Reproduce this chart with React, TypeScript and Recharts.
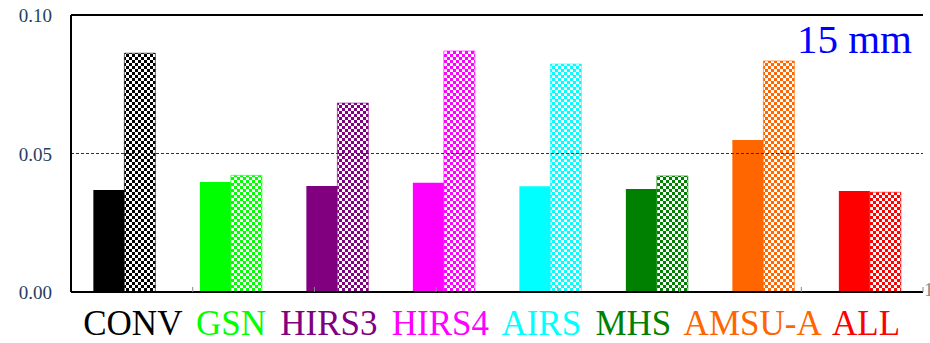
import { BarChart, Bar, Cell, XAxis, YAxis, ReferenceLine } from "recharts";

const categories = ["CONV", "GSN", "HIRS3", "HIRS4", "AIRS", "MHS", "AMSU-A", "ALL"];
const colors = ["#000000", "#00ff00", "#800080", "#ff00ff", "#00ffff", "#008000", "#ff6600", "#ff0000"];
const solidValues = [0.0368, 0.0397, 0.0383, 0.0394, 0.0382, 0.0372, 0.0549, 0.0365];
const checkedValues = [0.0862, 0.0421, 0.0682, 0.087, 0.0823, 0.0419, 0.0834, 0.036];
const yTicks = [0, 0.05, 0.1];
const edgeTicks = [1, 2, 3, 4, 5, 6, 7];

const data = categories.map((name, i) => ({
  name,
  solid: solidValues[i],
  checked: checkedValues[i],
}));

const SERIF = "'Liberation Serif', serif";

// the category names are set as one coloured line under the axis,
// drawn once from the first tick
function CategoryLine({ x, y, payload }: any) {
  if (categories.indexOf(payload.value) !== 0) return <g />;
  return (
    <text
      x={x - 41}
      y={y}
      dy={41}
      style={{ fontFamily: SERIF, fontSize: 35, wordSpacing: 5.5 }}
    >
      {categories.map((c, i) => (
        <tspan key={c} fill={colors[i]}>
          {i > 0 ? " " : ""}
          {c}
        </tspan>
      ))}
    </text>
  );
}

function ValueTick({ x, y, payload }: any) {
  return (
    <text
      x={x}
      y={y}
      dy={7}
      textAnchor="end"
      fill="#243f60"
      style={{ fontFamily: SERIF, fontSize: 19 }}
    >
      {payload.value.toFixed(2)}
    </text>
  );
}

export default function App() {
  return (
    <div style={{ position: "absolute", left: 0, top: 0, width: 930, height: 343, background: "#fff" }}>
      <BarChart
        width={930}
        height={343}
        data={data}
        margin={{ top: 15, right: 7, bottom: 0, left: 0 }}
        barCategoryGap="21%"
        barGap={0}
      >
        <defs>
          {colors.map((c, i) => (
            <pattern key={i} id={`chk${i}`} width={6} height={6} patternUnits="userSpaceOnUse">
              <rect width={6} height={6} fill="#ffffff" />
              <rect width={3} height={3} fill={c} />
              <rect x={3} y={3} width={3} height={3} fill={c} />
            </pattern>
          ))}
        </defs>
        <XAxis
          dataKey="name"
          height={51}
          tickLine={false}
          tickSize={0}
          tick={<CategoryLine />}
          interval={0}
          axisLine={{ stroke: "#000", strokeWidth: 2 }}
        />
        {/* small ticks between the groups */}
        <XAxis
          xAxisId="edge"
          type="number"
          domain={[0, 8]}
          ticks={edgeTicks}
          allowDataOverflow
          mirror
          interval={0}
          axisLine={false}
          tickSize={5}
          tickLine={{ stroke: "#888" }}
          tick={() => <g />}
        />
        <YAxis
          width={71}
          domain={[0, 0.1]}
          ticks={yTicks}
          tickLine={false}
          tickSize={0}
          tickMargin={19}
          tick={<ValueTick />}
          axisLine={{ stroke: "#000", strokeWidth: 2 }}
        />
        <YAxis
          yAxisId="r"
          orientation="right"
          width={0}
          domain={[0, 0.1]}
          tick={false}
          tickLine={false}
          axisLine={{ stroke: "#000", strokeWidth: 2 }}
        />
        <ReferenceLine y={0.05} stroke="#333" strokeDasharray="3 2" />
        <ReferenceLine y={0.1} stroke="#000" strokeWidth={2} />
        <Bar dataKey="solid" isAnimationActive={false}>
          {data.map((_, i) => (
            <Cell key={i} fill={colors[i]} />
          ))}
        </Bar>
        <Bar dataKey="checked" isAnimationActive={false}>
          {data.map((_, i) => (
            <Cell key={i} fill={`url(#chk${i})`} stroke={colors[i]} strokeOpacity={0.6} strokeWidth={1} />
          ))}
        </Bar>
      </BarChart>
      <div
        style={{
          position: "absolute",
          right: 18,
          top: 14,
          fontFamily: SERIF,
          fontSize: 41,
          lineHeight: "50px",
          color: "#0000ff",
        }}
      >
        15 mm
      </div>
      <div
        style={{
          position: "absolute",
          left: 924,
          top: 279,
          fontFamily: SERIF,
          fontSize: 19,
          lineHeight: "22px",
          color: "#888",
        }}
      >
        1
      </div>
    </div>
  );
}
